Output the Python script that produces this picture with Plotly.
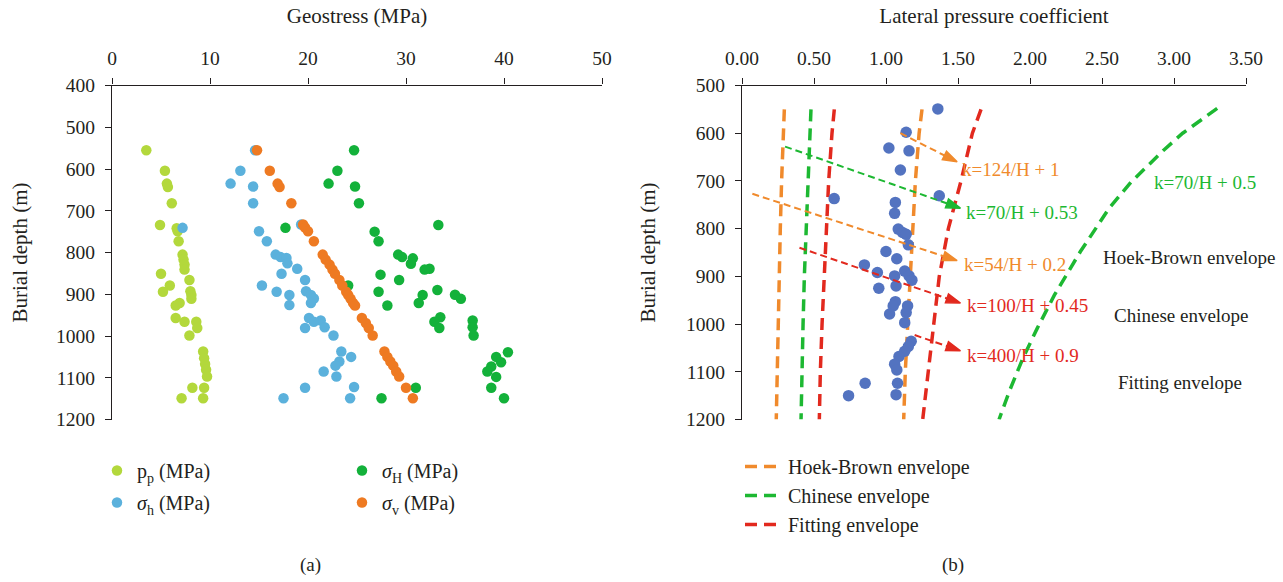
import plotly.graph_objects as go

# ---------------- (a) Geostress vs burial depth ----------------
depth_pp = [555, 604, 635, 643, 682, 734, 742, 749, 773, 805, 817, 829, 841, 851, 866, 879, 894, 893, 902, 911,
            921, 927, 957, 966, 966, 981, 999, 1037, 1053, 1067, 1081, 1097, 1124, 1124, 1149, 1149]
pp = [3.5, 5.4, 5.6, 5.7, 6.1, 4.9, 6.6, 6.7, 6.8, 7.2, 7.3, 7.4, 7.4, 5.0, 7.9, 5.9, 5.2, 8.0, 8.1, 8.1,
      6.9, 6.5, 6.5, 7.4, 8.6, 8.7, 7.9, 9.3, 9.4, 9.5, 9.6, 9.7, 8.2, 9.4, 7.1, 9.3]

depth_sh = [555, 604, 635, 642, 682, 741, 733, 749, 773, 805, 811, 813, 826, 839, 851, 866, 879, 893, 894, 902,
            902, 910, 921, 926, 957, 963, 966, 979, 981, 999, 1037, 1050, 1061, 1071, 1085, 1097, 1122, 1124, 1149, 1149]
sh = [14.6, 13.1, 12.1, 14.4, 14.4, 7.2, 19.3, 15.0, 15.8, 16.7, 17.2, 17.8, 17.9, 18.9, 17.3, 19.7, 15.3, 19.8, 16.8, 18.1,
      20.3, 20.6, 20.3, 18.1, 20.1, 21.3, 20.6, 21.7, 19.7, 22.6, 23.4, 24.4, 23.2, 22.8, 21.6, 22.9, 24.7, 19.7, 17.5, 24.3]

depth_sH = [555, 604, 635, 642, 682, 734, 741, 750, 773, 805, 811, 814, 827, 839, 841, 853, 866, 879, 890, 894,
            901, 902, 911, 921, 927, 955, 963, 966, 979, 981, 999, 1039, 1050, 1063, 1073, 1085, 1098, 1124, 1124, 1149, 1149]
sH = [24.7, 23.0, 22.1, 24.8, 25.2, 33.3, 17.7, 26.8, 27.2, 29.2, 29.6, 30.7, 30.5, 32.4, 31.9, 27.4, 29.3, 24.1, 33.2, 27.2,
      35.0, 31.7, 35.6, 31.3, 28.1, 33.5, 36.8, 32.9, 36.8, 33.4, 36.9, 40.4, 39.2, 39.7, 38.7, 38.3, 39.2, 38.7, 31.0, 27.5, 40.0]

depth_sv = [555, 604, 635, 643, 682, 733, 740, 749, 773, 805, 817, 829, 841, 851, 866, 879, 894, 902, 911, 921,
            927, 957, 969, 981, 999, 1037, 1050, 1061, 1071, 1085, 1097, 1124, 1149]
sv = [14.8, 16.1, 16.9, 17.1, 18.3, 19.5, 19.7, 20.0, 20.6, 21.5, 21.8, 22.2, 22.5, 22.75, 23.2, 23.5, 23.9, 24.1, 24.35, 24.6,
      24.8, 25.5, 25.9, 26.2, 26.6, 27.8, 28.1, 28.4, 28.7, 29.0, 29.3, 30.0, 30.7]

# ---------------- (b) Lateral pressure coefficient ----------------
depth_k = [549, 598, 631, 637, 677, 731, 737, 745, 768, 801, 808, 812, 834, 848, 863, 876, 889, 892, 899, 899,
           908, 920, 925, 953, 962, 962, 976, 979, 997, 1036, 1047, 1057, 1068, 1084, 1096, 1124, 1124, 1148, 1150]
k_vals = [1.36, 1.14, 1.02, 1.16, 1.10, 1.37, 0.64, 1.065, 1.06, 1.085, 1.115, 1.14, 1.155, 1.00, 1.075, 0.85, 1.13, 0.94, 1.06, 1.16,
          1.18, 1.07, 0.95, 1.065, 1.05, 1.15, 1.14, 1.025, 1.13, 1.175, 1.155, 1.13, 1.09, 1.06, 1.075, 0.855, 1.08, 1.07, 0.74]

env_depth = [550, 600, 700, 800, 900, 1000, 1100, 1200]
hb_low = [0.294, 0.287, 0.275, 0.266, 0.259, 0.252, 0.245, 0.238]
hb_high = [1.25, 1.23, 1.204, 1.185, 1.167, 1.151, 1.134, 1.123]
cn_low = [0.479, 0.472, 0.461, 0.447, 0.433, 0.424, 0.417, 0.41]
cn_high_depth = [548, 600, 635, 703, 757, 848, 939, 1009, 1072, 1142, 1200]
cn_high = [3.30, 3.06, 2.93, 2.70, 2.55, 2.35, 2.17, 2.05, 1.95, 1.855, 1.785]
fit_low = [0.641, 0.625, 0.602, 0.586, 0.567, 0.556, 0.544, 0.537]
fit_high = [1.66, 1.60, 1.521, 1.433, 1.37, 1.331, 1.29, 1.255]

# arrows pointing to the formula labels: start (k, depth) -> end (k, depth)
arrow_labels = ["k=124/H + 1", "k=70/H + 0.53", "k=54/H + 0.2", "k=100/H + 0.45", "k=400/H + 0.9"]
arrow_colors = ["#f08a2c", "#1db832", "#f08a2c", "#e2291e", "#e2291e"]
arrow_start_k = [1.10, 0.299, 0.072, 0.399, 1.199]
arrow_start_d = [600, 628, 727, 840, 1023]
arrow_end_k = [1.494, 1.517, 1.494, 1.517, 1.517]
arrow_end_d = [660, 757, 867, 956, 1056]
label_k = [1.517, 1.54, 1.529, 1.552, 1.552]
label_d = [677, 767, 876, 961, 1065]

extra_labels = ["k=70/H + 0.5", "Hoek-Brown envelope", "Chinese envelope", "Fitting envelope"]
extra_colors = ["#1db832", "#231f20", "#231f20", "#231f20"]
extra_k = [2.844, 2.491, 2.566, 2.596]
extra_d = [703, 860, 982, 1122]

FONT = "Liberation Serif, Times New Roman, serif"
TXT = "#231f20"
W, H = 1283, 582

C_PP, C_SH, C_SH2, C_SV = "#b3d83c", "#5bb1dc", "#13b13a", "#ee7a22"
C_HB, C_CN, C_FIT, C_K = "#f08a2c", "#1db832", "#e2291e", "#5373c0"

fig = go.Figure()

# ---- panel (a) ----
fig.add_trace(go.Scatter(x=pp, y=depth_pp, mode="markers", name="p<sub>p</sub> (MPa)",
                         marker=dict(color=C_PP, size=10.5), xaxis="x", yaxis="y",
                         legend="legend", legendgroup="a1"))
fig.add_trace(go.Scatter(x=sh, y=depth_sh, mode="markers", name="<i>σ</i><sub>h</sub> (MPa)",
                         marker=dict(color=C_SH, size=10.5), xaxis="x", yaxis="y",
                         legend="legend", legendgroup="a2"))
fig.add_trace(go.Scatter(x=sH, y=depth_sH, mode="markers", name="<i>σ</i><sub>H</sub> (MPa)",
                         marker=dict(color=C_SH2, size=10.5), xaxis="x", yaxis="y",
                         legend="legend2", legendgroup="a3"))
fig.add_trace(go.Scatter(x=sv, y=depth_sv, mode="markers", name="<i>σ</i><sub>v</sub> (MPa)",
                         marker=dict(color=C_SV, size=10.5), xaxis="x", yaxis="y",
                         legend="legend2", legendgroup="a4"))

# ---- panel (b) ----
DASH = "12px,7px"
fig.add_trace(go.Scatter(x=hb_low + [None] + hb_high, y=env_depth + [None] + env_depth,
                         mode="lines", name="Hoek-Brown envelope",
                         line=dict(color=C_HB, width=3.5, dash=DASH), xaxis="x2", yaxis="y2",
                         legend="legend3"))
fig.add_trace(go.Scatter(x=cn_low + [None] + cn_high, y=env_depth + [None] + cn_high_depth,
                         mode="lines", name="Chinese envelope",
                         line=dict(color=C_CN, width=3.5, dash=DASH), xaxis="x2", yaxis="y2",
                         legend="legend3"))
fig.add_trace(go.Scatter(x=fit_low + [None] + fit_high, y=env_depth + [None] + env_depth,
                         mode="lines", name="Fitting envelope",
                         line=dict(color=C_FIT, width=3.5, dash=DASH), xaxis="x2", yaxis="y2",
                         legend="legend3"))
fig.add_trace(go.Scatter(x=k_vals, y=depth_k, mode="markers", name="k",
                         marker=dict(color=C_K, size=11.5), xaxis="x2", yaxis="y2",
                         showlegend=False))

# dashed arrows (line + arrow-tip marker oriented along the segment)
for lab, col, sk, sd, ek, ed in zip(arrow_labels, arrow_colors, arrow_start_k, arrow_start_d,
                                    arrow_end_k, arrow_end_d):
    fig.add_trace(go.Scatter(x=[sk, ek], y=[sd, ed], mode="lines+markers", name=lab,
                             line=dict(color=col, width=2, dash="7px,4px"),
                             marker=dict(symbol="arrow", angleref="previous", size=[0, 15],
                                         color=col, opacity=1, line=dict(width=1.5, color=col)),
                             xaxis="x2", yaxis="y2", showlegend=False, hoverinfo="skip"))

annotations = []
for lab, col, lk, ld in zip(arrow_labels, arrow_colors, label_k, label_d):
    annotations.append(dict(xref="x2", yref="y2", x=lk, y=ld, text=lab, showarrow=False,
                            xanchor="left", yanchor="middle",
                            font=dict(family=FONT, size=19, color=col)))
for lab, col, lk, ld in zip(extra_labels, extra_colors, extra_k, extra_d):
    annotations.append(dict(xref="x2", yref="y2", x=lk, y=ld, text=lab, showarrow=False,
                            xanchor="left", yanchor="middle",
                            font=dict(family=FONT, size=19, color=col)))

annotations.append(dict(xref="paper", yref="paper", x=310 / W, y=1 - 565 / H, text="(a)",
                        xanchor="center", yanchor="middle",
                        showarrow=False, font=dict(family=FONT, size=19, color=TXT)))
annotations.append(dict(xref="paper", yref="paper", x=953 / W, y=1 - 565 / H, text="(b)",
                        xanchor="center", yanchor="middle",
                        showarrow=False, font=dict(family=FONT, size=19, color=TXT)))

yd = [1 - 419.5 / H, 1 - 85.5 / H]
axis_common = dict(showgrid=False, zeroline=False, showline=True, linecolor=TXT, linewidth=1.3,
                   ticks="outside", ticklen=6, tickwidth=1.3, tickcolor=TXT, automargin=False,
                   tickfont=dict(family=FONT, size=19.5, color=TXT), ticklabelstandoff=6)

fig.update_layout(
    width=W, height=H,
    margin=dict(l=0, r=0, t=0, b=0),
    paper_bgcolor="white", plot_bgcolor="white",
    font=dict(family=FONT, color=TXT),
    xaxis=dict(domain=[112 / W, 602 / W], range=[0, 50], side="top", anchor="y",
               tickvals=[0, 10, 20, 30, 40, 50],
               title=dict(text="Geostress (MPa)", standoff=18, font=dict(family=FONT, size=21, color=TXT)),
               **axis_common),
    yaxis=dict(domain=yd, range=[1200, 400], anchor="x",
               tickvals=[400, 500, 600, 700, 800, 900, 1000, 1100, 1200],
               title=dict(text="Burial depth (m)", standoff=22, font=dict(family=FONT, size=21, color=TXT)),
               **axis_common),
    xaxis2=dict(domain=[742 / W, 1246 / W], range=[0, 3.5], side="top", anchor="y2",
                tickvals=[0, 0.5, 1.0, 1.5, 2.0, 2.5, 3.0, 3.5], tickformat=".2f",
                title=dict(text="Lateral pressure coefficient", standoff=18, font=dict(family=FONT, size=21, color=TXT)),
                **axis_common),
    yaxis2=dict(domain=yd, range=[1200, 500], anchor="x2",
                tickvals=[500, 600, 700, 800, 900, 1000, 1100, 1200],
                title=dict(text="Burial depth (m)", standoff=24, font=dict(family=FONT, size=21, color=TXT)),
                **axis_common),
    legend=dict(x=97 / W, y=1 - 451 / H, xanchor="left", yanchor="top", bgcolor="rgba(0,0,0,0)",
                font=dict(family=FONT, size=20, color=TXT), tracegroupgap=3),
    legend2=dict(x=342 / W, y=1 - 451 / H, xanchor="left", yanchor="top", bgcolor="rgba(0,0,0,0)",
                 font=dict(family=FONT, size=20, color=TXT), tracegroupgap=3),
    legend3=dict(x=740 / W, y=1 - 447 / H, xanchor="left", yanchor="top", bgcolor="rgba(0,0,0,0)",
                 font=dict(family=FONT, size=20, color=TXT), itemwidth=38),
    annotations=annotations,
)

fig.write_html("out.html", config={"displayModeBar": False},
               post_script="document.body.style.margin='0px';")
